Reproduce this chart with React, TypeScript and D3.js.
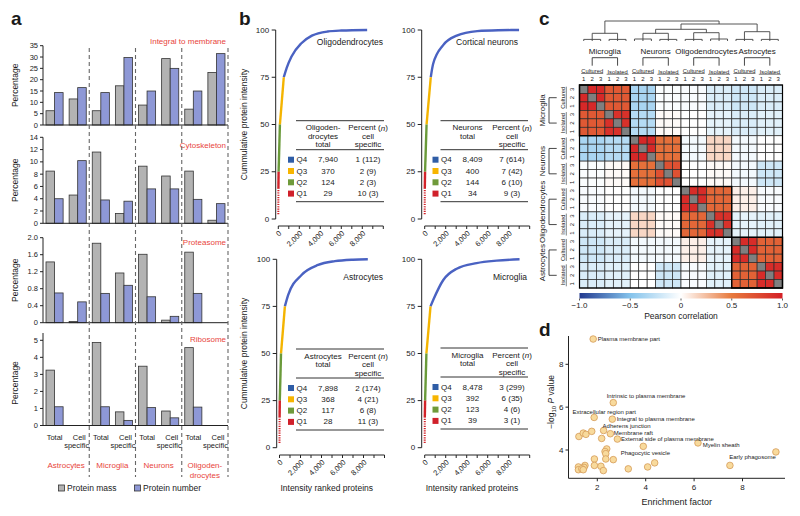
import React from 'react';
import * as d3 from 'd3';

const FONT = '"Liberation Sans", Arial, Helvetica, sans-serif';
const RED_TXT = '#e8453c';

// ---------- panel a data ----------
const cellGroups = ['Astrocytes', 'Microglia', 'Neurons', 'Oligodendrocytes'];
const groupLabelLines = [['Astrocytes'], ['Microglia'], ['Neurons'], ['Oligoden-', 'drocytes']];
const subsets = ['Total', 'Cell specific'];
const goTerms = ['Integral to membrane', 'Cytoskeleton', 'Proteasome', 'Ribosome'];
// order: astro total, astro specific, microglia total, microglia specific, neurons..., oligo...
const massIntegral = [6.3, 11.5, 6.3, 17.3, 8.8, 29.3, 7.0, 23.2];
const numberIntegral = [14.3, 16.5, 14.3, 29.8, 15.0, 25.0, 15.0, 31.5];
const massCyto = [8.5, 4.6, 11.6, 1.6, 9.3, 7.7, 8.5, 0.5];
const numberCyto = [4.0, 10.2, 3.8, 3.6, 5.6, 5.6, 3.9, 3.2];
const massProt = [1.43, 0.03, 1.87, 1.17, 1.61, 0.06, 1.66, 0];
const numberProt = [0.7, 0.49, 0.69, 0.88, 0.61, 0.15, 0.69, 0];
const massRibo = [3.25, 0, 4.87, 0.8, 3.48, 0.85, 4.57, 0];
const numberRibo = [1.1, 0, 1.1, 0.3, 1.05, 0.45, 1.08, 0];
const ticksIntegral = [0, 5, 10, 15, 20, 25, 30, 35];
const ticksCyto = [0, 2, 4, 6, 8, 10, 12, 14];
const ticksProt = [0, 0.4, 0.8, 1.2, 1.6, 2.0];
const ticksRibo = [0, 1, 2, 3, 4, 5];

const massByTerm = [massIntegral, massCyto, massProt, massRibo];
const numberByTerm = [numberIntegral, numberCyto, numberProt, numberRibo];
const ticksByTerm = [ticksIntegral, ticksCyto, ticksProt, ticksRibo];

// ---------- panel b data ----------
const quartiles = ['Q4', 'Q3', 'Q2', 'Q1'];
const oligoCounts = [7940, 370, 124, 29];
const oligoPct = [1, 2, 2, 10];
const oligoN = [112, 9, 3, 3];
const neuronCounts = [8409, 400, 144, 34];
const neuronPct = [7, 7, 6, 9];
const neuronN = [614, 42, 10, 3];
const astroCounts = [7898, 368, 117, 28];
const astroPct = [2, 4, 6, 11];
const astroN = [174, 21, 8, 3];
const microgliaCounts = [8478, 392, 123, 39];
const microgliaPct = [3, 6, 4, 3];
const microgliaN = [299, 35, 6, 1];
const oligoTail = [[800, 80], [1260, 86], [2200, 93], [3200, 97], [4700, 99.2], [6000, 99.7]];
const neuronTail = [[800, 82], [1760, 92], [3050, 97], [5000, 99.4], [7000, 99.9]];
const astroTail = [[820, 81], [2100, 91.7], [3680, 97], [5270, 99], [7000, 99.8]];
const microgliaTail = [[820, 78.5], [1770, 89], [3050, 95], [4950, 98], [6860, 99.3]];
// first few (most abundant) proteins of Q1
const q1Head = [[1, 2.5], [10, 16]];
const xTicksB = [0, 1000, 2000, 3000, 4000, 5000, 6000, 7000, 8000, 9000, 10000];
const yTicksB = [0, 25, 50, 75, 100];

// ---------- panel c data ----------
const cTypes = ['Microglia', 'Neurons', 'Oligodendrocytes', 'Astrocytes'];
const preps = ['Cultured', 'Isolated'];
const reps = ['1', '2', '3'];
// group order: MG cult, MG iso, Neu cult, Neu iso, Oligo cult, Oligo iso, Astro cult, Astro iso
const groupCorr = [
  [0.95, 0.68, -0.35, -0.02, -0.03, -0.15, -0.2, -0.15],
  [0.68, 0.9, -0.3, 0.02, 0.0, -0.1, -0.15, -0.12],
  [-0.35, -0.3, 0.95, 0.55, -0.05, 0.15, -0.05, 0.0],
  [-0.02, 0.02, 0.55, 0.72, 0.0, 0.02, -0.05, -0.2],
  [-0.03, 0.0, -0.05, 0.0, 0.93, 0.6, 0.06, -0.03],
  [-0.15, -0.1, 0.15, 0.02, 0.6, 0.9, -0.1, -0.12],
  [-0.2, -0.15, -0.05, -0.05, 0.06, -0.1, 0.93, 0.63],
  [-0.15, -0.12, 0.0, -0.2, -0.03, -0.12, 0.63, 0.93],
];
// dendrogram merge heights (0 = leaves, 1 = root)
const dendro = {h: 1, children: [
  {h: 0.385, children: [{h: 0.08, leaves: [0, 1, 2]}, {h: 0.08, leaves: [3, 4, 5]}]},
  {h: 0.85, children: [
    {h: 0.585, children: [
      {h: 0.385, children: [{h: 0.1, leaves: [6, 7, 8]}, {h: 0.08, leaves: [9, 10, 11]}]},
      {h: 0.415, children: [{h: 0.08, leaves: [12, 13, 14]}, {h: 0.1, leaves: [15, 16, 17]}]},
    ]},
    {h: 0.465, children: [{h: 0.08, leaves: [18, 19, 20]}, {h: 0.08, leaves: [21, 22, 23]}]},
  ]},
]};
const colorbarTicks = [-1, -0.5, 0, 0.5, 1];

// ---------- panel d data ----------
const dTerms = ['Plasma membrane part', 'Intrinsic to plasma membrane', 'Extracellular region part',
  'Integral to plasma membrane', 'Adherens junction', 'Membrane raft', 'External side of plasma membrane',
  'Myelin sheath', 'Early phagosome', 'Phagocytic vesicle'];
const dEnrichLabeled = [1.83, 2.66, 1.87, 2.62, 2.26, 2.54, 2.83, 6.16, 9.38, 2.66];
const dLogPLabeled = [9.18, 6.21, 5.52, 5.44, 4.91, 4.76, 4.51, 4.33, 3.91, 3.55];
const dEnrichOther = [1.24, 1.42, 1.53, 1.77, 2.18, 2.39, 2.32, 2.35, 2.35, 1.88, 3.9, 1.88, 2.15, 1.49,
  1.45, 1.22, 1.22, 1.36, 1.42, 2.25, 3.28, 4.08, 4.37, 7.48];
const dLogPOther = [4.63, 4.79, 4.73, 4.87, 4.54, 4.05, 3.93, 3.83, 3.58, 3.58, 4.17, 3.28, 3.24, 3.28,
  3.19, 3.21, 3.08, 3.12, 3.08, 3.04, 3.12, 3.21, 3.4, 3.28];
const dXTicks = [2, 4, 6, 8];
const dYTicks = [4, 6, 8];

// label placement (layout only)
const dLabelOffsets = [
  [4.5, 0, 'start'], [-6.6, -6.4, 'start'], [-21.6, -5.4, 'start'], [4.4, -0.6, 'start'], [-1, -4.3, 'start'],
  [3.5, -1.2, 'start'], [3.7, -0.4, 'start'], [4.7, 2.4, 'start'], [0, 5.2, 'end'], [7.4, -6.7, 'start'],
];

const minus = (s: string) => s.replace('-', '\u2212');

function PanelA() {
  const left = 43, right = 228;
  const layout = [
    {y0: 125, y1: 45.7, max: 35, axisTop: 45.7, titleY: 41},
    {y0: 223.3, y1: 137.3, max: 14, axisTop: 137.3, titleY: 145},
    {y0: 322.7, y1: 237.7, max: 2, axisTop: 237.7, titleY: 242},
    {y0: 425.5, y1: 340.3, max: 5, axisTop: 333, titleY: 339},
  ];
  const slotKeys = cellGroups.flatMap(g => subsets.map(s => g + '|' + s));
  const x = d3.scaleBand().domain(slotKeys).range([left, right]).paddingInner(0.26).paddingOuter(0.13);
  const bw = x.bandwidth() / 2;
  const groupW = (right - left) / cellGroups.length;
  const gray = '#b3b3b3', blue = '#8e98d6', stroke = '#333';
  return (
    <g>
      <text x={11} y={25} fontSize={19} fontWeight="bold">a</text>
      {layout.map((p, k) => {
        const y = d3.scaleLinear().domain([0, p.max]).range([p.y0, p.y1]);
        const fmt = k === 2 ? (t: number) => (t === 0 ? '0' : t.toFixed(1)) : (t: number) => String(t);
        return (
          <g key={k}>
            <line x1={left} x2={left} y1={p.y0} y2={p.axisTop} stroke="#222" />
            {ticksByTerm[k].map(t => (
              <g key={t}>
                <line x1={left - 3} x2={left} y1={y(t)} y2={y(t)} stroke="#222" />
                <text x={left - 5} y={y(t)} textAnchor="end" dominantBaseline="central" fontSize={7.5}>{fmt(t)}</text>
              </g>
            ))}
            {slotKeys.map((key, i) => {
              const m = massByTerm[k][i], n = numberByTerm[k][i];
              const xs = x(key)!;
              return (
                <g key={key}>
                  {m > 0 && <rect x={xs} y={y(m)} width={bw} height={p.y0 - y(m)} fill={gray} stroke={stroke} strokeWidth={0.8} />}
                  {n > 0 && <rect x={xs + bw} y={y(n)} width={bw} height={p.y0 - y(n)} fill={blue} stroke={stroke} strokeWidth={0.8} />}
                </g>
              );
            })}
            <line x1={left} x2={right} y1={p.y0} y2={p.y0} stroke="#222" />
            <text x={226} y={p.titleY} textAnchor="end" dominantBaseline="central" fill={RED_TXT} fontSize={8}>{goTerms[k]}</text>
            <text transform={`translate(15,${(p.y0 + p.y1) / 2}) rotate(-90)`} textAnchor="middle" dominantBaseline="central" fontSize={8.5}>Percentage</text>
          </g>
        );
      })}
      {cellGroups.map((g, i) => (
        <line key={g} x1={left + groupW * (i + 1)} x2={left + groupW * (i + 1)} y1={48} y2={477}
          stroke="#666" strokeWidth={1.1} strokeDasharray="4 3" />
      ))}
      {cellGroups.map((g, i) => {
        const tx = x(g + '|' + subsets[0])! + bw;
        const sx = x(g + '|' + subsets[1])! + bw;
        const cx = left + groupW * (i + 0.5);
        return (
          <g key={g} fontSize={7.5}>
            <text x={tx} y={437} textAnchor="middle" dominantBaseline="central">Total</text>
            <text x={sx + 1.5} y={437} textAnchor="middle" dominantBaseline="central">Cell</text>
            <text x={sx - 1} y={445} textAnchor="middle" dominantBaseline="central">specific</text>
            {groupLabelLines[i].map((l, j) => (
              <text key={l} x={cx} y={465 + j * 10} textAnchor="middle" dominantBaseline="central" fill={RED_TXT} fontSize={8}>{l}</text>
            ))}
          </g>
        );
      })}
      <rect x={58.5} y={485} width={6} height={6} fill={gray} stroke={stroke} strokeWidth={0.8} />
      <text x={67} y={488} dominantBaseline="central" fontSize={8.5}>Protein mass</text>
      <rect x={134.5} y={485} width={6} height={6} fill={blue} stroke={stroke} strokeWidth={0.8} />
      <text x={143} y={488} dominantBaseline="central" fontSize={8.5}>Protein number</text>
    </g>
  );
}

const qLine = ['#4a62c2', '#f4b400', '#6a9a3a', '#d2232a'];
const qBox = ['#2f5da6', '#f7b500', '#6f9a3a', '#d0202a'];

function CumPlot({cfg}: {cfg: any}) {
  const {axisX, x0, yTop, yBot, xAxisY, L, R, T} = cfg;
  const x = d3.scaleLinear().domain([0, 10000]).range([x0, x0 + 105]);
  const y = d3.scaleLinear().domain([0, 100]).range([yBot, yTop]);
  const line = d3.line<number[]>().x(d => x(d[0])).y(d => y(d[1])).curve(d3.curveMonotoneX);
  const c = cfg.counts;
  const r1 = c[3], r2 = r1 + c[2], r3 = r2 + c[1], r4 = r3 + c[0];
  const q4 = [[r3, 75], ...cfg.tail, [r4, 100]];
  const fmt = d3.format(',');
  return (
    <g>
      <line x1={axisX} x2={axisX} y1={y(0)} y2={y(100)} stroke="#222" />
      {yTicksB.map(t => (
        <g key={t}>
          <line x1={axisX - 4} x2={axisX} y1={y(t)} y2={y(t)} stroke="#222" />
          <text x={axisX - 6.5} y={y(t)} textAnchor="end" dominantBaseline="central" fontSize={8}>{t}</text>
        </g>
      ))}
      <line x1={x(0)} x2={x(10000)} y1={xAxisY} y2={xAxisY} stroke="#222" />
      {xTicksB.map(t => (
        <g key={t}>
          <line x1={x(t)} x2={x(t)} y1={xAxisY} y2={xAxisY + 3} stroke="#222" />
          {t % 2000 === 0 && t < 10000 && (
            <text transform={`translate(${x(t) + 2},${xAxisY + 6}) rotate(-45)`} textAnchor="end" dominantBaseline="central" fontSize={7.5}>{fmt(t)}</text>
          )}
        </g>
      ))}
      <path d={line(q4)!} fill="none" stroke={qLine[0]} strokeWidth={2.4} />
      <path d={line([[r2, 50], [r3, 75]])!} fill="none" stroke={qLine[1]} strokeWidth={2.4} />
      <path d={line([[r1, 25], [r2, 50]])!} fill="none" stroke={qLine[2]} strokeWidth={2.4} />
      <path d={line([q1Head[1], [r1, 25]])!} fill="none" stroke={qLine[3]} strokeWidth={2.4} />
      <path d={line(q1Head)!} fill="none" stroke={qLine[3]} strokeWidth={2} strokeDasharray="1.2 1.1" />
      <text x={cfg.labelX} y={cfg.labelY} textAnchor="end" dominantBaseline="central" fontSize={8.5}>{cfg.name}</text>
      {cfg.ylabel && (
        <text transform={`translate(244,${(yTop + yBot) / 2}) rotate(-90)`} textAnchor="middle" dominantBaseline="central" fontSize={8.5}>Cummulative protein intensity</text>
      )}
      {cfg.xlabel && (
        <text x={x(4500)} y={488} textAnchor="middle" dominantBaseline="central" fontSize={8.5}>Intensity ranked proteins</text>
      )}
      {/* table */}
      <g fontSize={8}>
        <line x1={L} x2={R} y1={T} y2={T} stroke="#333" />
        {cfg.header.map((h: string, i: number) => (
          <text key={h} x={L + 27} y={T + 7 + i * 8.5} textAnchor="middle" dominantBaseline="central">{h}</text>
        ))}
        <text x={R - 16} y={T + 7} textAnchor="middle" dominantBaseline="central">Percent (<tspan fontStyle="italic">n</tspan>)</text>
        <text x={R - 16} y={T + 15.5} textAnchor="middle" dominantBaseline="central">cell</text>
        <text x={R - 16} y={T + 24} textAnchor="middle" dominantBaseline="central">specific</text>
        <line x1={L} x2={R} y1={T + 29} y2={T + 29} stroke="#333" />
        {quartiles.map((q, i) => {
          const ry = T + 39 + i * 11.3;
          return (
            <g key={q}>
              <rect x={L - 8} y={ry - 3} width={6} height={6} fill={qBox[i]} />
              <text x={L + 0.5} y={ry} dominantBaseline="central">{q}</text>
              <text x={L + 32} y={ry} textAnchor="middle" dominantBaseline="central">{fmt(c[i])}</text>
              <text x={R - 16} y={ry} textAnchor="middle" dominantBaseline="central">{`${cfg.pct[i]} (${cfg.n[i]})`}</text>
            </g>
          );
        })}
        <line x1={L} x2={R} y1={T + 81} y2={T + 81} stroke="#333" />
      </g>
    </g>
  );
}

function PanelB() {
  const plots = [
    {name: 'Oligodendrocytes', header: ['Oligoden-', 'drocytes', 'total'], counts: oligoCounts, pct: oligoPct, n: oligoN, tail: oligoTail,
      axisX: 275.7, x0: 278.3, yTop: 30, yBot: 219, xAxisY: 226, L: 296, R: 384, T: 120.7, labelX: 383, labelY: 42, ylabel: true, xlabel: false},
    {name: 'Cortical neurons', header: ['Neurons', 'total'], counts: neuronCounts, pct: neuronPct, n: neuronN, tail: neuronTail,
      axisX: 421.7, x0: 424.7, yTop: 30, yBot: 219, xAxisY: 226, L: 440.5, R: 528, T: 120.7, labelX: 518, labelY: 42, ylabel: false, xlabel: false},
    {name: 'Astrocytes', header: ['Astrocytes', 'total'], counts: astroCounts, pct: astroPct, n: astroN, tail: astroTail,
      axisX: 276.7, x0: 279.5, yTop: 259.3, yBot: 447.7, xAxisY: 455, L: 296, R: 384, T: 349, labelX: 383, labelY: 277, ylabel: true, xlabel: true},
    {name: 'Microglia', header: ['Microglia', 'total'], counts: microgliaCounts, pct: microgliaPct, n: microgliaN, tail: microgliaTail,
      axisX: 421.7, x0: 424.7, yTop: 259.3, yBot: 447.7, xAxisY: 455, L: 440.5, R: 528, T: 348, labelX: 527, labelY: 277, ylabel: false, xlabel: true},
  ];
  return (
    <g>
      <text x={239} y={25} fontSize={19} fontWeight="bold">b</text>
      {plots.map(p => <CumPlot key={p.name} cfg={p} />)}
    </g>
  );
}

function PanelC() {
  const L = 579.5, T = 85, S = 203;
  const idx = d3.range(24);
  const bx = d3.scaleBand<number>().domain(idx).range([L, L + S]);
  const by = d3.scaleBand<number>().domain(idx).range([T, T + S]);
  const cs = bx.bandwidth();
  const color = d3.scaleLinear<string>().domain([-1, -0.5, 0, 0.5, 1])
    .range(['#22398f', '#84c3ec', '#ffffff', '#e7793c', '#d41f26']);
  const value = (i: number, j: number) => (i === j ? NaN : groupCorr[Math.floor(i / 3)][Math.floor(j / 3)]);
  // dendrogram
  const hy = d3.scaleLinear().domain([0, 1]).range([41, 21]);
  const segs: number[][] = [];
  const walk = (node: any): number => {
    let xs: number[];
    if (node.leaves) {
      xs = node.leaves.map((l: number) => bx(l)! + cs / 2);
      xs.forEach(xx => segs.push([xx, hy(0), xx, hy(node.h)]));
    } else {
      xs = node.children.map((ch: any) => {
        const cx = walk(ch);
        segs.push([cx, hy(ch.h), cx, hy(node.h)]);
        return cx;
      });
    }
    segs.push([xs[0], hy(node.h), xs[xs.length - 1], hy(node.h)]);
    return (xs[0] + xs[xs.length - 1]) / 2;
  };
  walk(dendro);
  const groupCenter = (g: number) => L + (g + 0.5) * 3 * cs;
  const groupCenterY = (g: number) => T + (g + 0.5) * 3 * cs;
  const cb = d3.scaleLinear().domain([-1, 1]).range([L, L + S]);
  return (
    <g>
      <text x={539} y={25} fontSize={19} fontWeight="bold">c</text>
      {segs.map((s, i) => <line key={i} x1={s[0]} y1={s[1]} x2={s[2]} y2={s[3]} stroke="#444" strokeWidth={0.9} />)}
      {/* heatmap cells */}
      {idx.map(i => idx.map(j => {
        const v = value(i, j);
        return <rect key={i + '-' + j} x={bx(j)} y={by(i)} width={cs} height={cs}
          fill={isNaN(v) ? '#7f7f7f' : color(v)} stroke="#2a2a2a" strokeWidth={0.7} />;
      }))}
      {cTypes.map((t, k) => (
        <rect key={t} x={L + k * 6 * cs} y={T + k * 6 * cs} width={6 * cs} height={6 * cs} fill="none" stroke="#000" strokeWidth={1.4} />
      ))}
      <rect x={L} y={T} width={S} height={S} fill="none" stroke="#000" strokeWidth={1.2} />
      {/* column labels */}
      {cTypes.map((t, k) => {
        const c1 = groupCenter(2 * k), c2 = groupCenter(2 * k + 1);
        return (
          <g key={t}>
            <text x={(c1 + c2) / 2} y={51.7} textAnchor="middle" dominantBaseline="central" fontSize={8}>{t}</text>
            <path d={`M${c1},65.7V57.7H${c2}V65.7`} fill="none" stroke="#333" strokeWidth={0.9} />
          </g>
        );
      })}
      {d3.range(8).map(g => (
        <g key={g}>
          <text x={groupCenter(g)} y={g % 2 ? 71.5 : 70.5} textAnchor="middle" dominantBaseline="central" fontSize={5.8}>{preps[g % 2]}</text>
          <line x1={groupCenter(g) - 11} x2={groupCenter(g) + 11} y1={g % 2 ? 74.3 : 73.5} y2={g % 2 ? 74.3 : 73.5} stroke="#333" strokeWidth={0.6} />
        </g>
      ))}
      {idx.map(j => (
        <text key={j} x={bx(j)! + cs / 2} y={79} textAnchor="middle" dominantBaseline="central" fontSize={6}>{reps[j % 3]}</text>
      ))}
      {/* row labels */}
      {cTypes.map((t, k) => {
        const c1 = groupCenterY(2 * k), c2 = groupCenterY(2 * k + 1);
        return (
          <g key={t}>
            <text transform={`translate(542.5,${(c1 + c2) / 2}) rotate(-90)`} textAnchor="middle" dominantBaseline="central" fontSize={8}>{t}</text>
            <path d={`M556.7,${c1}H549V${c2}H556.7`} fill="none" stroke="#333" strokeWidth={0.9} />
          </g>
        );
      })}
      {d3.range(8).map(g => (
        <g key={g}>
          <text transform={`translate(563,${groupCenterY(g)}) rotate(-90)`} textAnchor="middle" dominantBaseline="central" fontSize={5.8}>{preps[g % 2]}</text>
          <line x1={566.3} x2={566.3} y1={groupCenterY(g) - 11} y2={groupCenterY(g) + 11} stroke="#333" strokeWidth={0.6} />
        </g>
      ))}
      {idx.map(i => (
        <text key={i} transform={`translate(572,${by(i)! + cs / 2}) rotate(-90)`} textAnchor="middle" dominantBaseline="central" fontSize={6}>{reps[2 - (i % 3)]}</text>
      ))}
      {/* colour bar */}
      <defs>
        <linearGradient id="cbar" x1="0" x2="1" y1="0" y2="0">
          {colorbarTicks.map(t => <stop key={t} offset={(t + 1) / 2} stopColor={color(t)} />)}
        </linearGradient>
      </defs>
      <rect x={L} y={293} width={S} height={5.5} fill="url(#cbar)" />
      {colorbarTicks.map(t => (
        <g key={t}>
          <line x1={cb(t)} x2={cb(t)} y1={298.5} y2={300.5} stroke="#333" strokeWidth={0.8} />
          <text x={cb(t)} y={305} textAnchor="middle" dominantBaseline="central" fontSize={8}>{minus(t === 0 ? '0' : t.toFixed(1))}</text>
        </g>
      ))}
      <text x={L + S / 2} y={315.5} textAnchor="middle" dominantBaseline="central" fontSize={8.5}>Pearson correlation</text>
    </g>
  );
}

function PanelD() {
  const x = d3.scaleLinear().domain([2, 8]).range([597.3, 742.5]);
  const y = d3.scaleLinear().domain([4, 8]).range([450, 364.3]);
  const axisY = 478.3, axisX = 568.5;
  const fill = '#f8da9c', stroke = '#d49a58';
  return (
    <g>
      <text x={539} y={336} fontSize={19} fontWeight="bold">d</text>
      <line x1={axisX} x2={axisX} y1={336} y2={axisY} stroke="#222" />
      <line x1={axisX} x2={785} y1={axisY} y2={axisY} stroke="#222" />
      {dYTicks.map(t => (
        <g key={t}>
          <line x1={axisX - 3} x2={axisX} y1={y(t)} y2={y(t)} stroke="#222" />
          <text x={axisX - 5} y={y(t)} textAnchor="end" dominantBaseline="central" fontSize={8}>{t}</text>
        </g>
      ))}
      {dXTicks.map(t => (
        <g key={t}>
          <line x1={x(t)} x2={x(t)} y1={axisY} y2={axisY + 3} stroke="#222" />
          <text x={x(t)} y={487} textAnchor="middle" dominantBaseline="central" fontSize={8}>{t}</text>
        </g>
      ))}
      <text x={676.7} y={501.5} textAnchor="middle" dominantBaseline="central" fontSize={9}>Enrichment factor</text>
      <text transform={`translate(551,402) rotate(-90)`} textAnchor="middle" fontSize={8.5} dominantBaseline="central">
        {'\u2212log'}<tspan fontSize={6} dy={2.5}>10</tspan><tspan dy={-2.5} fontStyle="italic"> P</tspan> value
      </text>
      {dEnrichOther.map((e, i) => (
        <circle key={'o' + i} cx={x(e)} cy={y(dLogPOther[i])} r={3.3} fill={fill} stroke={stroke} strokeWidth={0.8} />
      ))}
      {dEnrichLabeled.map((e, i) => (
        <circle key={'l' + i} cx={x(e)} cy={y(dLogPLabeled[i])} r={3.3} fill={fill} stroke={stroke} strokeWidth={0.8} />
      ))}
      {dTerms.map((t, i) => {
        const [dx, dy, anchor] = dLabelOffsets[i] as [number, number, string];
        return (
          <text key={t} x={x(dEnrichLabeled[i]) + dx} y={y(dLogPLabeled[i]) + dy} textAnchor={anchor}
            dominantBaseline="central" fontSize={6} fill="#222">{t}</text>
        );
      })}
    </g>
  );
}

export default function App() {
  return (
    <svg width={800} height={516} style={{position: 'absolute', left: 0, top: 0, background: '#fff'}}
      fontFamily={FONT} fill="#1a1a1a">
      <PanelA />
      <PanelB />
      <PanelC />
      <PanelD />
    </svg>
  );
}
